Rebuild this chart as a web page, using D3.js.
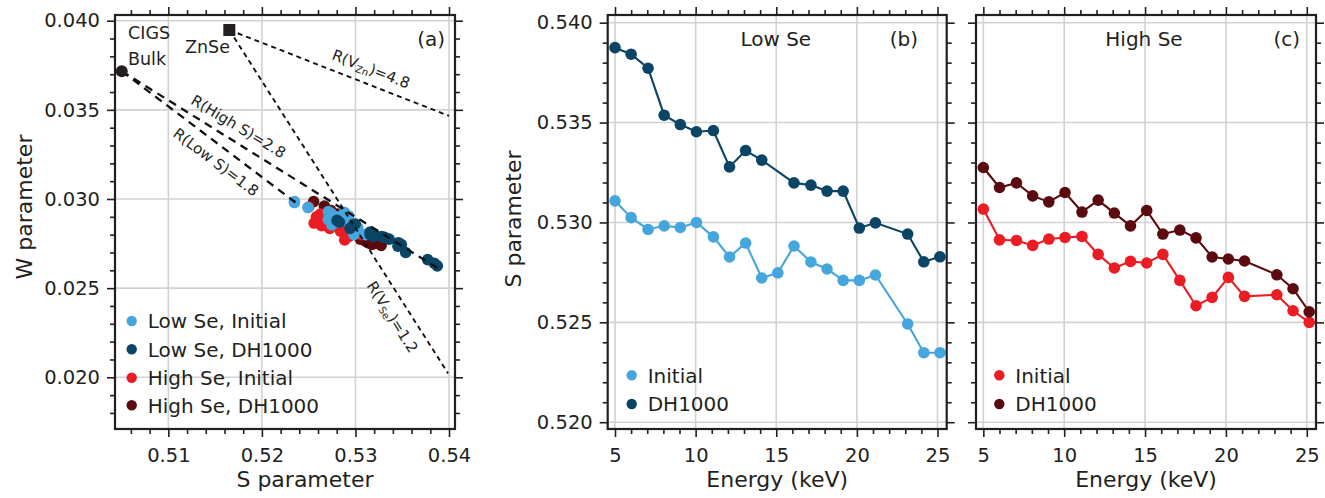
<!DOCTYPE html>
<html><head><meta charset="utf-8">
<script src="https://cdn.jsdelivr.net/npm/d3@7"></script>
<style>
body{margin:0;background:#fff;}
text{font-family:"DejaVu Sans",sans-serif;fill:#231f20;}
</style></head>
<body>
<svg id="chart" width="1325" height="498"></svg>
<script>
// ---------------- DATA ----------------
const energyAll = [5.0,6.0,7.05,8.05,9.05,10.05,11.1,12.1,13.1,14.1,15.1,16.1,17.15,18.15,19.15,20.15,21.15,23.15,24.15,25.15];
const energyNo15 = [5.0,6.0,7.05,8.05,9.05,10.05,11.1,12.1,13.1,14.1,16.1,17.15,18.15,19.15,20.15,21.15,23.15,24.15,25.15];

const sLowInitial = [0.53108,0.53024,0.52965,0.52983,0.52975,0.53000,0.52928,0.52827,0.52897,0.52722,0.52748,0.52882,0.52802,0.52767,0.52710,0.52710,0.52737,0.52492,0.52348,0.52348];
const sLowDH = [0.53875,0.53842,0.53772,0.53537,0.53490,0.53454,0.53460,0.53278,0.53360,0.53312,0.53198,0.53187,0.53157,0.53157,0.52972,0.52998,0.52942,0.52803,0.52828];
const sHighInitial = [0.53067,0.52913,0.52910,0.52885,0.52917,0.52925,0.52930,0.52840,0.52772,0.52805,0.52797,0.52840,0.52710,0.52583,0.52625,0.52725,0.52630,0.52638,0.52558,0.52500];
const sHighDH = [0.53275,0.53175,0.53198,0.53133,0.53103,0.53150,0.53052,0.53112,0.53047,0.52983,0.53060,0.52942,0.52962,0.52923,0.52827,0.52817,0.52807,0.52738,0.52668,0.52553];

const wLowInitial = [0.02800,0.02840,0.02830,0.02800,0.02845,0.02850,0.02905,0.02870,0.02880,0.02910,0.02855,0.02925,0.02900,0.02905,0.02885,0.02930,0.02920,0.02952,0.02980,0.02985];
const wLowDH = [0.02625,0.02640,0.02660,0.02700,0.02745,0.02735,0.02755,0.02790,0.02775,0.02785,0.02805,0.02790,0.02800,0.02815,0.02850,0.02860,0.02835,0.02880,0.02870];
const wHighInitial = [0.02800,0.02800,0.02830,0.02770,0.02845,0.02810,0.02790,0.02820,0.02890,0.02875,0.02850,0.02860,0.02870,0.02900,0.02915,0.02835,0.02880,0.02850,0.02865,0.02955];
const wHighDH = [0.02740,0.02745,0.02750,0.02755,0.02765,0.02760,0.02775,0.02790,0.02790,0.02820,0.02800,0.02855,0.02835,0.02870,0.02880,0.02895,0.02915,0.02935,0.02960,0.02985];

const refCIGS = [0.50502, 0.03717];
const refZnSe = [0.51652, 0.03948];
const lineEnds = [
  {from:"CIGS", to:[0.53888,0.02609], label:"High S", val:"2.8"},
  {from:"CIGS", to:[0.52348,0.02985], label:"Low S", val:"1.8"},
  {from:"ZnSe", to:[0.54000,0.03466], label:"VZn", val:"4.8"},
  {from:"ZnSe", to:[0.53990,0.02022], label:"VSe", val:"1.2"}
];

const xTicksA = [0.51,0.52,0.53,0.54];
const yTicksA = [0.020,0.025,0.030,0.035,0.040];
const xTicksE = [5,10,15,20,25];
const yTicksS = [0.520,0.525,0.530,0.535,0.540];

const legendA = ["Low Se, Initial","Low Se, DH1000","High Se, Initial","High Se, DH1000"];
const legendBC = ["Initial","DH1000"];

const C = {lightBlue:"#45a6dd", darkBlue:"#0a4566", red:"#ec1c24", darkRed:"#5b0a0e", ink:"#231f20", grid:"#d2d2d2"};

// ---------------- DRAW ----------------
const svg = d3.select("#chart");

function frame(g, x, y, xMajor, xMinor, yMajor, yMinor, xFmt, yFmt, showYLabels){
  const [x0,x1] = x.range(), [y1,y0] = y.range();
  g.append("g").selectAll("line").data(xMajor).join("line")
    .attr("x1",d=>x(d)).attr("x2",d=>x(d)).attr("y1",y0).attr("y2",y1)
    .attr("stroke",C.grid).attr("stroke-width",1.6);
  g.append("g").selectAll("line").data(yMajor).join("line")
    .attr("y1",d=>y(d)).attr("y2",d=>y(d)).attr("x1",x0).attr("x2",x1)
    .attr("stroke",C.grid).attr("stroke-width",1.6);
  const styleAxis = a => { a.select(".domain").remove(); a.selectAll("line").attr("stroke",C.ink).attr("stroke-width",1.6);
    a.selectAll("text").style("font-family","DejaVu Sans").style("font-size","19.5px").attr("fill",C.ink); };
  g.append("g").attr("transform",`translate(0,${y1})`).call(d3.axisBottom(x).tickValues(xMajor).tickSize(8).tickPadding(11).tickFormat(xFmt)).call(styleAxis);
  g.append("g").attr("transform",`translate(0,${y1})`).call(d3.axisBottom(x).tickValues(xMinor).tickSize(5).tickFormat("")).call(styleAxis);
  g.append("g").attr("transform",`translate(0,${y0})`).call(d3.axisTop(x).tickValues(xMajor).tickSize(8).tickFormat("")).call(styleAxis);
  g.append("g").attr("transform",`translate(0,${y0})`).call(d3.axisTop(x).tickValues(xMinor).tickSize(5).tickFormat("")).call(styleAxis);
  g.append("g").attr("transform",`translate(${x0},0)`).call(d3.axisLeft(y).tickValues(yMajor).tickSize(8).tickPadding(7).tickFormat(showYLabels?yFmt:"")).call(styleAxis);
  g.append("g").attr("transform",`translate(${x0},0)`).call(d3.axisLeft(y).tickValues(yMinor).tickSize(5).tickFormat("")).call(styleAxis);
  g.append("g").attr("transform",`translate(${x1},0)`).call(d3.axisRight(y).tickValues(yMajor).tickSize(8).tickFormat("")).call(styleAxis);
  g.append("g").attr("transform",`translate(${x1},0)`).call(d3.axisRight(y).tickValues(yMinor).tickSize(5).tickFormat("")).call(styleAxis);
}
function frameRect(g, x, y){
  const [x0,x1] = x.range(), [y1,y0] = y.range();
  g.append("rect").attr("x",x0).attr("y",y0).attr("width",x1-x0).attr("height",y1-y0)
    .attr("fill","none").attr("stroke",C.ink).attr("stroke-width",2.2);
}
const minorOf = (lo,hi,step,major) => d3.range(Math.round((hi-lo)/step)+1).map(i=>+(lo+i*step).toFixed(6)).filter(v=>!major.some(m=>Math.abs(m-v)<1e-9));

// ===== Panel (a) =====
const xa = d3.scaleLinear().domain([0.50430,0.54064]).range([115,455]);
const ya = d3.scaleLinear().domain([0.0171,0.04032]).range([429,15]);
const ga = svg.append("g");
frame(ga, xa, ya, xTicksA, minorOf(0.506,0.540,0.002,xTicksA), yTicksA, minorOf(0.018,0.040,0.001,yTicksA), d3.format(".2f"), d3.format(".3f"), true);

const seriesA = [
  {s:sHighDH, w:wHighDH, c:C.darkRed},
  {s:sHighInitial, w:wHighInitial, c:C.red},
  {s:sLowInitial, w:wLowInitial, c:C.lightBlue},
  {s:sLowDH, w:wLowDH, c:C.darkBlue}
];
seriesA.forEach(sr=>{
  ga.append("g").selectAll("circle").data(sr.s.map((s,i)=>[s,sr.w[i]])).join("circle")
    .attr("cx",d=>xa(d[0])).attr("cy",d=>ya(d[1])).attr("r",5.8).attr("fill",sr.c);
});

lineEnds.forEach(l=>{
  const p = l.from==="CIGS"?refCIGS:refZnSe;
  const isC = l.from==="CIGS";
  ga.append("line").attr("x1",xa(p[0])).attr("y1",ya(p[1])).attr("x2",xa(l.to[0])).attr("y2",ya(l.to[1]))
    .attr("stroke","#111").attr("stroke-width",isC?2.3:1.9).attr("stroke-dasharray",isC?"8,6":"5,4");
});
ga.append("circle").attr("cx",xa(0.52348)).attr("cy",ya(0.02985)).attr("r",1.4).attr("fill","#111");
ga.append("circle").attr("cx",xa(refCIGS[0])).attr("cy",ya(refCIGS[1])).attr("r",6).attr("fill",C.ink);
ga.append("rect").attr("x",xa(refZnSe[0])-6).attr("y",ya(refZnSe[1])-6).attr("width",12).attr("height",12).attr("fill",C.ink);

function rotLabel(g, cx, cy, ang, main, sub, val){
  const t = g.append("text").attr("transform",`translate(${cx},${cy}) rotate(${ang})`)
    .attr("text-anchor","middle").attr("dy","0.35em").style("font-size","15px");
  if(sub){
    t.append("tspan").text("R(V");
    t.append("tspan").text(sub).attr("baseline-shift","-25%").style("font-size","10px");
    t.append("tspan").text(")="+val);
  } else t.text(`R(${main})=${val}`);
}
rotLabel(ga, 371, 69, 21.3, null, "Zn", "4.8");
rotLabel(ga, 238.5, 126.5, 31, "High S", null, "2.8");
rotLabel(ga, 216, 162, 37, "Low S", null, "1.8");
rotLabel(ga, 392.5, 317, 57.5, null, "Se", "1.2");

ga.append("text").attr("x",128).attr("y",39).style("font-size","17.5px").text("CIGS");
ga.append("text").attr("x",128).attr("y",65).style("font-size","17.5px").text("Bulk");
ga.append("text").attr("x",185).attr("y",53).style("font-size","17.5px").text("ZnSe");
ga.append("text").attr("x",445).attr("y",46).attr("text-anchor","end").style("font-size","20px").text("(a)");

const legColsA = [C.lightBlue,C.darkBlue,C.red,C.darkRed];
const legYA = [321,349.3,377.7,405.3];
legendA.forEach((t,i)=>{
  ga.append("circle").attr("cx",131.7).attr("cy",legYA[i]).attr("r",5.2).attr("fill",legColsA[i]);
  ga.append("text").attr("x",147.7).attr("y",legYA[i]).attr("dy","0.36em").style("font-size","20px").text(t);
});

ga.append("text").attr("x",305).attr("y",487).attr("text-anchor","middle").style("font-size","22px").text("S parameter");
ga.append("text").attr("transform","translate(32,207) rotate(-90)").attr("text-anchor","middle").style("font-size","22px").text("W parameter");
frameRect(ga, xa, ya);

// ===== Panels (b) and (c) =====
function energyPanel(x0, x1, showY, title, tag, tagX, titleX, init, dh, cInit, cDh, legX){
  const x = d3.scaleLinear().domain([4.547,25.57]).range([x0,x1]);
  const y = d3.scaleLinear().domain([0.51966,0.540385]).range([429,15]);
  const g = svg.append("g");
  frame(g, x, y, xTicksE, minorOf(5,25,1,xTicksE), yTicksS, minorOf(0.520,0.540,0.001,yTicksS), d3.format("d"), d3.format(".3f"), showY);
  const line = d3.line().x(d=>x(d[0])).y(d=>y(d[1]));
  [[init,cInit],[dh,cDh]].forEach(([ser,c])=>{
    g.append("path").datum(ser).attr("d",line).attr("fill","none").attr("stroke",c).attr("stroke-width",2.1);
    g.append("g").selectAll("circle").data(ser).join("circle")
      .attr("cx",d=>x(d[0])).attr("cy",d=>y(d[1])).attr("r",5.8).attr("fill",c);
  });
  g.append("text").attr("x",titleX).attr("y",46).attr("text-anchor","middle").style("font-size","20px").text(title);
  g.append("text").attr("x",tagX).attr("y",46).attr("text-anchor","end").style("font-size","20px").text(tag);
  [[legendBC[0],cInit,375.3],[legendBC[1],cDh,404]].forEach(([t,c,yy])=>{
    g.append("circle").attr("cx",legX).attr("cy",yy).attr("r",5.2).attr("fill",c);
    g.append("text").attr("x",legX+16).attr("y",yy).attr("dy","0.36em").style("font-size","20px").text(t);
  });
  g.append("text").attr("x",(x0+x1)/2).attr("y",487).attr("text-anchor","middle").style("font-size","22px").text("Energy (keV)");
  frameRect(g, x, y);
  return g;
}
const zip = (e,s)=>e.map((v,i)=>[v,s[i]]);
const gb = energyPanel(607.7, 946.7, true, "Low Se", "(b)", 918, 775.8,
  zip(energyAll,sLowInitial), zip(energyNo15,sLowDH), C.lightBlue, C.darkBlue, 631.7);
gb.append("text").attr("transform","translate(521,219) rotate(-90)").attr("text-anchor","middle").style("font-size","22px").text("S parameter");
energyPanel(976, 1316, false, "High Se", "(c)", 1300, 1144,
  zip(energyAll,sHighInitial), zip(energyAll,sHighDH), C.red, C.darkRed, 999.3);
</script>
</body></html>
